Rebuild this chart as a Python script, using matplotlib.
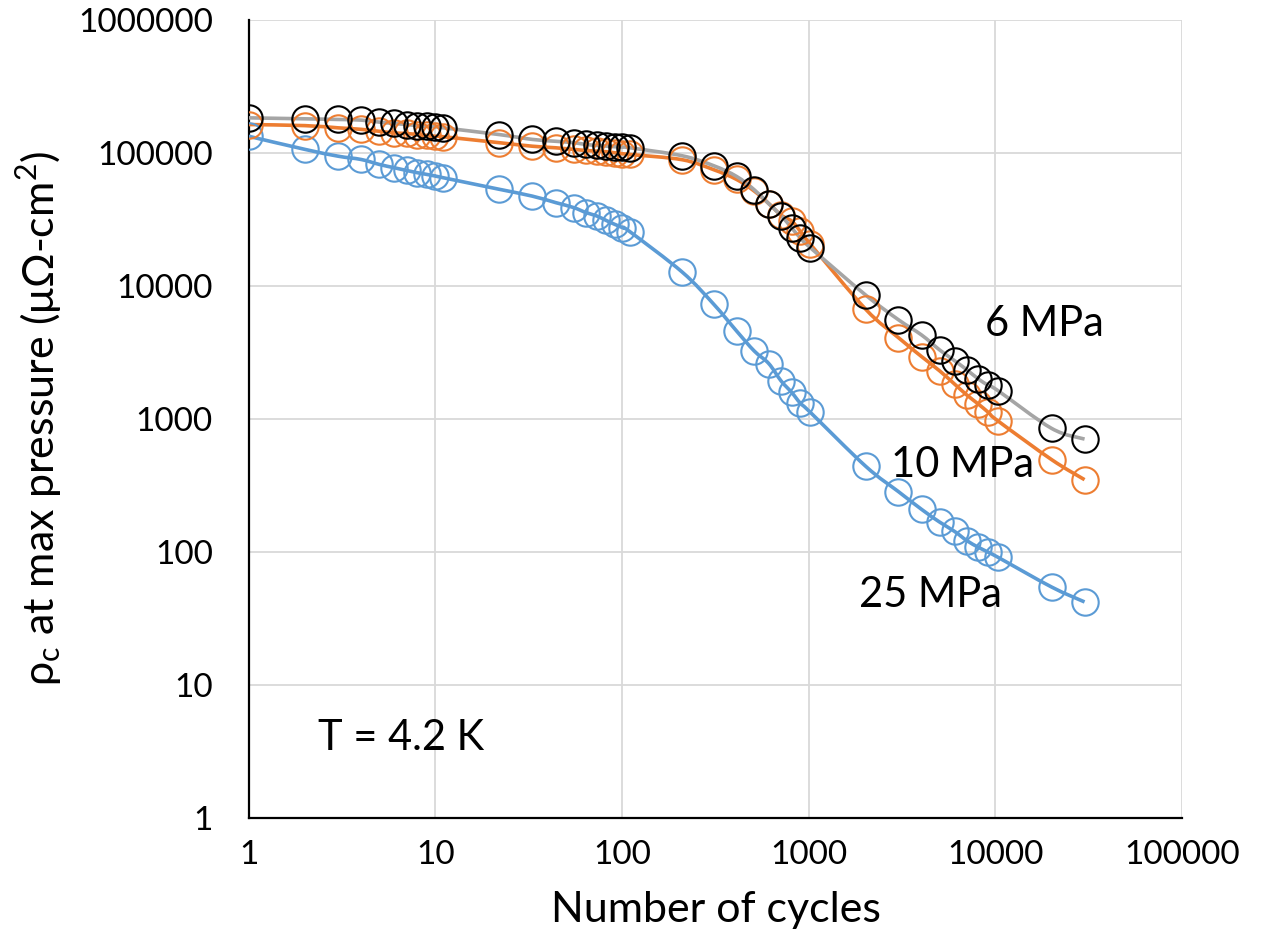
import numpy as np
import matplotlib
matplotlib.use('Agg')
import matplotlib.pyplot as plt
from matplotlib.path import Path
from matplotlib.patches import PathPatch

plt.rcParams['font.family'] = ['Lato', 'DejaVu Sans']
plt.rcParams['mathtext.fontset'] = 'custom'
plt.rcParams['mathtext.rm'] = 'Lato'

# number of cycles (same for all three pressures)
cycles = [1, 2, 3, 4, 5, 6, 7, 8, 9, 10, 11,
          22, 33, 44, 55, 64, 73, 82, 91, 100, 110,
          210, 310, 410, 510, 610, 710, 810, 900, 1020,
          2020, 3020, 4020, 5020, 6040, 7030, 8090, 9160, 10280,
          20000, 30000]

rho_6mpa = [183000, 180000, 178000, 176000, 170000, 166000, 163000, 160000, 158000, 157000, 154000,
            137000, 126000, 122000, 119000, 115400, 113500, 112200, 111000, 110200, 109000,
            94900, 79800, 66400, 52700, 41400, 33700, 27200, 22900, 19300,
            8490, 5550, 4260, 3290, 2730, 2330, 1990, 1780, 1630,
            845, 703]

rho_10mpa = [163000, 160000, 154000, 150000, 145000, 141000, 139600, 137000, 135000, 133000, 132000,
             119000, 112000, 109000, 106000, 104000, 102800, 101800, 100000, 98300, 97100,
             88600, 74500, 63000, 51500, 41500, 34000, 30600, 25700, 20500,
             6640, 4070, 2930, 2290, 1820, 1505, 1290, 1115, 965,
             492, 348]

rho_25mpa = [133000, 106000, 94300, 89000, 81700, 77200, 73600, 70800, 68700, 66800, 64900,
             53100, 47200, 42200, 38700, 35500, 33500, 31000, 29000, 27400, 25500,
             12650, 7240, 4570, 3230, 2600, 1925, 1575, 1310, 1115,
             438, 283, 208, 167, 142, 121, 108, 99, 91,
             54.2, 41.9]

xticks = [1, 10, 100, 1000, 10000, 100000]
yticks = [1, 10, 100, 1000, 10000, 100000, 1000000]


def smooth_path(x, y):
    # Excel-like smoothed line: Catmull-Rom bezier in log space
    pts = np.column_stack([np.log10(x), np.log10(y)])
    n = len(pts)
    verts = [pts[0]]
    codes = [Path.MOVETO]
    for i in range(n - 1):
        p0 = pts[max(i - 1, 0)]
        p1 = pts[i]
        p2 = pts[i + 1]
        p3 = pts[min(i + 2, n - 1)]
        verts += [p1 + (p2 - p0) / 6, p2 - (p3 - p1) / 6, p2]
        codes += [Path.CURVE4] * 3
    return Path(10 ** np.array(verts), codes)


fig = plt.figure(figsize=(12.63, 9.42), dpi=100)
ax = fig.add_axes([0.197, 0.132, 0.739, 0.847])
ax.set_xscale('log')
ax.set_yscale('log')
ax.set_xlim(1, 100000)
ax.set_ylim(1, 1000000)

series = [(rho_25mpa, '#5B9BD5', '#5B9BD5'),
          (rho_10mpa, '#ED7D31', '#ED7D31'),
          (rho_6mpa, '#A5A5A5', 'black')]
for vals, lc, mc in series:
    ax.add_patch(PathPatch(smooth_path(cycles, vals), fill=False,
                           edgecolor=lc, lw=2.6, zorder=3))
    ax.plot(cycles, vals, linestyle='none', marker='o', ms=19,
            mfc='none', mec=mc, mew=1.5, zorder=4)

ax.set_xticks(xticks)
ax.set_xticklabels([str(v) for v in xticks])
ax.set_yticks(yticks)
ax.set_yticklabels([str(v) for v in yticks])
ax.minorticks_off()
ax.tick_params(length=0, labelsize=24, colors='black')
ax.tick_params(axis='y', pad=26)
ax.tick_params(axis='x', pad=16)

ax.grid(True, color='#D9D9D9', lw=1.3, zorder=0)
ax.set_axisbelow(True)
for s in ['top', 'right']:
    ax.spines[s].set_visible(False)
for s in ['left', 'bottom']:
    ax.spines[s].set_linewidth(1.6)
    ax.spines[s].set_color('black')

ax.set_xlabel('Number of cycles', fontsize=31, labelpad=15)
ax.set_ylabel(r'ρ$_\mathregular{c}$ at max pressure (μΩ-cm$^\mathregular{2}$)', fontsize=31, labelpad=10)

ax.text(8800, 5150, '6 MPa', fontsize=30, ha='left', va='center')
ax.text(2750, 451, '10 MPa', fontsize=30, ha='left', va='center')
ax.text(1855, 47, '25 MPa', fontsize=30, ha='left', va='center')
ax.text(2.34, 4.0, 'T = 4.2 K', fontsize=30, ha='left', va='center')

plt.savefig('out.png', dpi=100)
